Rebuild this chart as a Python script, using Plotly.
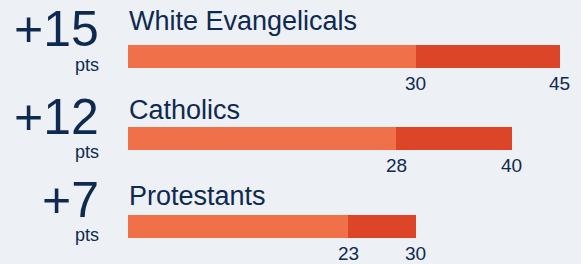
import plotly.graph_objects as go

# ---- data ----
categories = ["White Evangelicals", "Catholics", "Protestants"]
before = [30, 28, 23]
after = [45, 40, 30]
change_labels = ["+15", "+12", "+7"]

# ---- layout constants (pixel geometry) ----
W, H = 581, 264
X0_PX = 127.5          # pixel of value 0
PX_PER_UNIT = 9.6
bar_y = [56.3, 138.3, 226.3]       # bar centre rows (pixel-like y units)
title_y = [20.5, 109.5, 195.5]
big_y = [29, 117, 200]
pts_y = [65, 152, 235]
BAR_H = 23

LIGHT = "#F07149"
DARK = "#DC4527"
NAVY = "#0E2A50"
BG = "#EDF0F4"
FONT = "Liberation Sans, Arial, Helvetica, sans-serif"


def px_to_x(px):
    return (px - X0_PX) / PX_PER_UNIT


fig = go.Figure()
fig.add_trace(go.Bar(
    x=before, y=bar_y, base=[0] * len(before), orientation="h",
    width=BAR_H, marker=dict(color=LIGHT, line=dict(width=0)),
    hoverinfo="skip", showlegend=False,
))
fig.add_trace(go.Bar(
    x=[a - b for a, b in zip(after, before)], y=bar_y, base=before,
    orientation="h", width=BAR_H,
    marker=dict(color=DARK, line=dict(width=0)),
    hoverinfo="skip", showlegend=False,
))

ann = []
for i, cat in enumerate(categories):
    ann.append(dict(x=0, y=title_y[i], text=cat, xanchor="left", yanchor="middle",
                    showarrow=False, font=dict(size=27, color=NAVY, family=FONT),
                    xshift=-1))
    ann.append(dict(x=px_to_x(101), y=big_y[i], text=change_labels[i], xanchor="right",
                    yanchor="middle", showarrow=False,
                    font=dict(size=50, color=NAVY, family=FONT)))
    ann.append(dict(x=px_to_x(101), y=pts_y[i], text="pts", xanchor="right",
                    yanchor="middle", showarrow=False,
                    font=dict(size=18, color=NAVY, family=FONT)))
    lab_y = bar_y[i] + BAR_H / 2 + 15.5
    for v in (before[i], after[i]):
        ann.append(dict(x=v, y=lab_y, text=str(v), xanchor="center", yanchor="middle",
                        showarrow=False, font=dict(size=19, color=NAVY, family=FONT)))

fig.update_layout(
    width=W, height=H,
    margin=dict(l=0, r=0, t=0, b=0),
    paper_bgcolor=BG, plot_bgcolor=BG,
    barmode="overlay", bargap=0,
    xaxis=dict(range=[px_to_x(0), px_to_x(W)], visible=False, fixedrange=True),
    yaxis=dict(range=[H, 0], visible=False, fixedrange=True),
    annotations=ann,
    showlegend=False,
)

fig.write_html(
    "out.html",
    config={"displayModeBar": False},
    post_script="document.body.style.margin='0';document.body.style.overflow='hidden';"
                "document.body.style.background='" + BG + "';",
)
